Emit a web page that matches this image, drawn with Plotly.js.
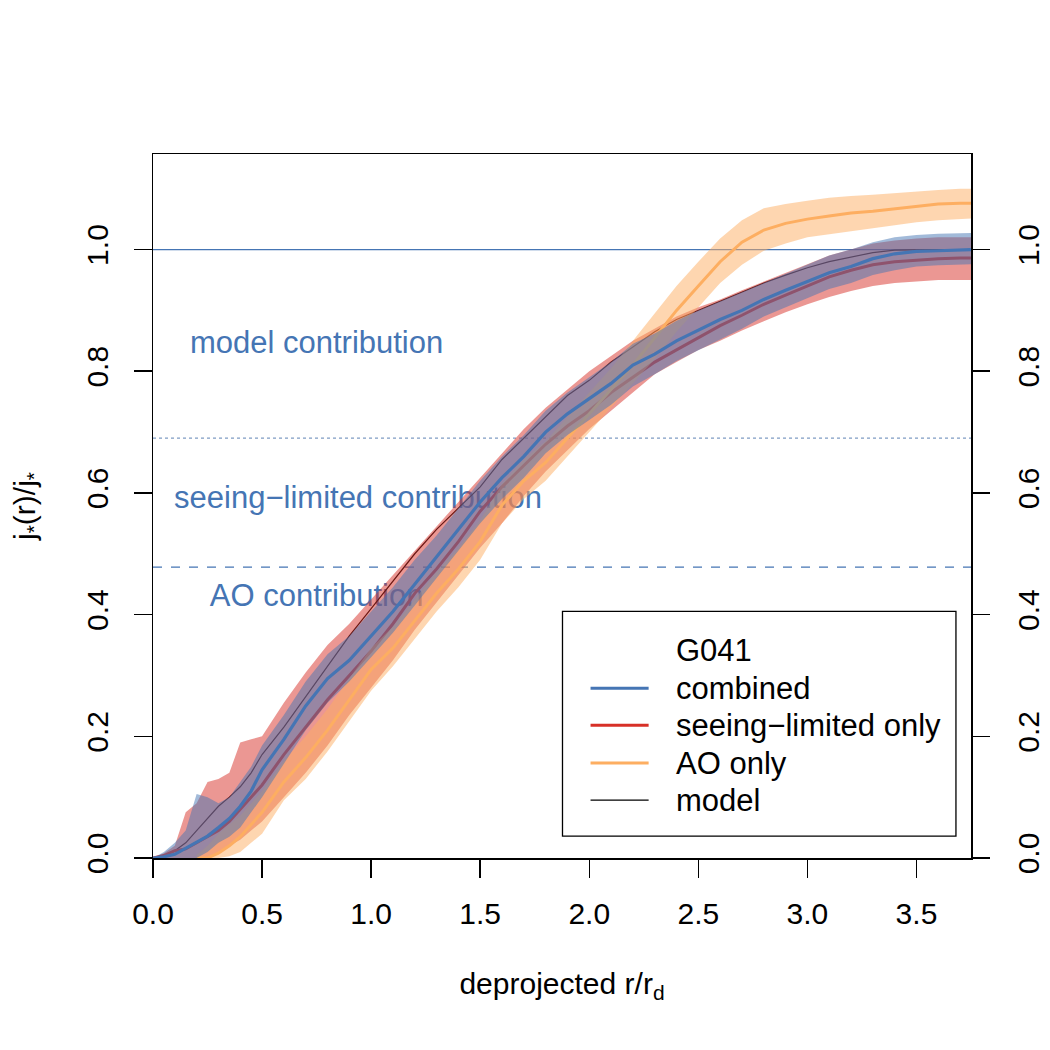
<!DOCTYPE html>
<html>
<head>
<meta charset="utf-8">
<script src="https://cdn.plot.ly/plotly-3.0.1.min.js"></script>
<style>html,body{margin:0;padding:0;background:#fff;}#chart{width:1050px;height:1050px;}</style>
</head>
<body>
<div id="chart"></div>
<script>
// ---- data ----
const rr = [0,0.05,0.1,0.15,0.2,0.25,0.3,0.35,0.4,0.45,0.5,0.6,0.7,0.8,0.9,1.0,1.1,1.2,1.3,1.4,1.5,1.6,1.7,1.8,1.9,2.0,2.1,2.2,2.3,2.4,2.5,2.6,2.7,2.8,2.9,3.0,3.1,3.2,3.3,3.4,3.5,3.6,3.7,3.75];

const modelJ = [0,0.003,0.012,0.025,0.045,0.065,0.085,0.1,0.117,0.14,0.17,
  0.215,0.265,0.315,0.365,0.41,0.455,0.5,0.54,0.575,0.61,0.655,0.69,0.725,0.76,0.785,0.815,0.84,0.865,0.885,0.9,0.915,0.93,0.945,0.958,0.97,0.98,0.988,0.995,0.999,1.0,1.0,1.0,1.0];

const combinedJ = [0,0.002,0.006,0.016,0.027,0.036,0.05,0.065,0.085,0.11,0.145,
  0.195,0.25,0.295,0.325,0.365,0.405,0.45,0.495,0.54,0.585,0.625,0.66,0.7,0.73,0.755,0.78,0.81,0.828,0.85,0.867,0.885,0.9,0.918,0.933,0.948,0.962,0.972,0.985,0.993,0.997,0.998,1.0,1.0];
const combinedLo = [0,0,0,0,0,0.01,0.025,0.035,0.05,0.075,0.1,
  0.155,0.21,0.255,0.29,0.33,0.37,0.415,0.46,0.505,0.55,0.59,0.625,0.665,0.695,0.72,0.745,0.775,0.795,0.817,0.835,0.853,0.87,0.89,0.905,0.92,0.935,0.945,0.958,0.966,0.972,0.974,0.976,0.976];
const combinedHi = [0,0.01,0.025,0.045,0.105,0.1,0.09,0.1,0.125,0.15,0.185,
  0.235,0.29,0.335,0.365,0.405,0.445,0.49,0.53,0.575,0.62,0.66,0.695,0.735,0.765,0.79,0.815,0.845,0.862,0.883,0.9,0.915,0.93,0.945,0.96,0.975,0.99,1.0,1.012,1.02,1.024,1.026,1.027,1.027];

const seeingJ = [0,0.004,0.012,0.015,0.025,0.035,0.045,0.06,0.08,0.1,0.12,
  0.17,0.215,0.26,0.3,0.34,0.385,0.435,0.475,0.52,0.57,0.61,0.645,0.68,0.71,0.735,0.765,0.79,0.815,0.835,0.855,0.875,0.892,0.91,0.925,0.94,0.955,0.966,0.975,0.98,0.983,0.985,0.986,0.986];
const seeingLo = [0,0,0,0,0,0,0.01,0.02,0.03,0.045,0.06,
  0.1,0.14,0.185,0.235,0.28,0.325,0.375,0.42,0.465,0.51,0.55,0.595,0.635,0.67,0.705,0.735,0.765,0.795,0.815,0.835,0.85,0.867,0.882,0.897,0.91,0.922,0.932,0.94,0.945,0.948,0.95,0.95,0.95];
const seeingHi = [0,0.008,0.02,0.075,0.09,0.125,0.13,0.14,0.19,0.195,0.2,
  0.255,0.305,0.35,0.385,0.425,0.465,0.505,0.545,0.585,0.625,0.665,0.705,0.74,0.77,0.8,0.825,0.85,0.87,0.89,0.905,0.918,0.933,0.948,0.962,0.976,0.99,1.0,1.01,1.015,1.018,1.02,1.02,1.02];

const aoJ = [null,null,null,null,0,0,0.008,0.02,0.035,0.055,0.075,
  0.125,0.165,0.21,0.26,0.31,0.345,0.39,0.435,0.475,0.52,0.58,0.62,0.65,0.69,0.73,0.77,0.81,0.855,0.9,0.94,0.98,1.012,1.032,1.043,1.05,1.055,1.06,1.063,1.067,1.072,1.075,1.076,1.076];
const aoLo = [null,null,null,null,0,0,0,0.003,0.01,0.025,0.04,
  0.095,0.13,0.175,0.225,0.275,0.315,0.36,0.405,0.445,0.49,0.55,0.59,0.62,0.66,0.7,0.74,0.78,0.82,0.865,0.905,0.945,0.975,0.998,1.01,1.02,1.025,1.03,1.035,1.04,1.045,1.048,1.05,1.051];
const aoHi = [null,null,null,null,0.005,0.02,0.04,0.055,0.07,0.09,0.11,
  0.16,0.2,0.245,0.295,0.345,0.38,0.425,0.47,0.51,0.555,0.615,0.655,0.685,0.725,0.765,0.805,0.85,0.895,0.94,0.98,1.018,1.048,1.068,1.075,1.08,1.085,1.088,1.09,1.092,1.095,1.098,1.1,1.1];

const refLevels = [1.0, 0.69, 0.478];
const refDash = ['solid', 'dot', 'dash'];

const regionLabels = ['model contribution', 'seeing\u2212limited contribution', 'AO contribution'];
const regionX = [0.75, 0.94, 0.75];
const regionY = [0.842, 0.588, 0.427];

const legendTitle = 'G041';
const legendNames = ['combined', 'seeing\u2212limited only', 'AO only', 'model'];

const yTicks = [0, 0.2, 0.4, 0.6, 0.8, 1.0];
const xTicks = [0, 0.5, 1.0, 1.5, 2.0, 2.5, 3.0, 3.5];

// ---- styling ----
const FONT = 'Liberation Sans, Arial, Helvetica, sans-serif';
const FS = 30;
const FS_TXT = 31;
const BLUE = '#4575b4', RED = '#d73027', ORANGE = '#fdae61', BLACK = '#000000';
const legendColors = [BLUE, RED, ORANGE, BLACK];
const legendWidths = [3, 3, 3, 1.2];

function band(lo, hi, color) {
  const xf = [], lf = [], hf = [];
  for (let i = 0; i < rr.length; i++) {
    if (lo[i] !== null && hi[i] !== null) { xf.push(rr[i]); lf.push(lo[i]); hf.push(hi[i]); }
  }
  return {
    x: xf.concat(xf.slice().reverse()),
    y: lf.concat(hf.slice().reverse()),
    type: 'scatter', mode: 'lines', fill: 'toself', fillcolor: color,
    line: {width: 0, color: 'rgba(0,0,0,0)'}, hoverinfo: 'skip', showlegend: false
  };
}
function line(y, color, w, name) {
  return {x: rr, y: y, type: 'scatter', mode: 'lines', connectgaps: false,
    line: {color: color, width: w}, name: name, showlegend: false};
}

const traces = [
  {x: regionX, y: regionY, text: regionLabels, mode: 'text', type: 'scatter',
   textposition: 'middle center', textfont: {family: FONT, size: FS_TXT, color: BLUE},
   hoverinfo: 'skip', showlegend: false},
  line(modelJ, BLACK, 1.2, 'model'),
  band(seeingLo, seeingHi, 'rgba(215,48,39,0.5)'),
  line(seeingJ, RED, 3, 'seeing-limited only'),
  band(aoLo, aoHi, 'rgba(253,174,97,0.5)'),
  line(aoJ, ORANGE, 3, 'AO only'),
  band(combinedLo, combinedHi, 'rgba(69,117,180,0.5)'),
  line(combinedJ, BLUE, 3.2, 'combined'),
  {x: [rr[0]], y: [modelJ[0]], yaxis: 'y2', type: 'scatter', mode: 'markers',
   marker: {opacity: 0}, hoverinfo: 'skip', showlegend: false}
];

const shapes = [];
refLevels.forEach((lv, i) => {
  shapes.push({type: 'line', xref: 'paper', x0: 0, x1: 1, yref: 'y', y0: lv, y1: lv,
    layer: 'below', line: {color: i === 1 ? '#7f9cc4' : BLUE, width: i === 0 ? 1.2 : 1.3, dash: refDash[i]}});
});

// manual legend (paper coords)
const L = {x0: 0.5006, x1: 0.9816, y0: 0.0312, y1: 0.3504};
shapes.push({type: 'rect', xref: 'paper', yref: 'paper', x0: L.x0, x1: L.x1, y0: L.y0, y1: L.y1,
  line: {color: '#000', width: 1.3}, fillcolor: 'rgba(255,255,255,0)'});
const rowY = [0.2950, 0.2411, 0.1887, 0.1348, 0.0823];
const annotations = [];
annotations.push({xref: 'paper', yref: 'paper', x: 0.6370, y: rowY[0], xanchor: 'left', yanchor: 'middle',
  text: legendTitle, showarrow: false, font: {family: FONT, size: FS_TXT, color: '#000'}});
legendNames.forEach((nm, i) => {
  shapes.push({type: 'line', xref: 'paper', yref: 'paper', x0: 0.5349, x1: 0.6059, y0: rowY[i+1], y1: rowY[i+1],
    line: {color: legendColors[i], width: legendWidths[i]}});
  annotations.push({xref: 'paper', yref: 'paper', x: 0.6370, y: rowY[i+1], xanchor: 'left', yanchor: 'middle',
    text: nm, showarrow: false, font: {family: FONT, size: FS_TXT, color: '#000'}});
});

const axisCommon = {
  showgrid: false, zeroline: false, showline: true, linecolor: '#000', linewidth: 1.5,
  ticks: 'outside', ticklen: 18, tickwidth: 1.5, tickcolor: '#000',
  tickfont: {family: FONT, size: FS, color: '#000'}
};

const layout = {
  width: 1050, height: 1050,
  margin: {l: 153, r: 79, t: 154, b: 192, pad: 0},
  paper_bgcolor: '#fff', plot_bgcolor: '#fff',
  showlegend: false,
  font: {family: FONT, size: FS, color: '#000'},
  xaxis: Object.assign({}, axisCommon, {
    range: [0, 3.75], tickvals: xTicks, tickformat: '.1f', mirror: true,
    ticklabelstandoff: 10,
    title: {text: 'deprojected r/r<sub>d</sub>', font: {family: FONT, size: FS, color: '#000'}, standoff: 44}
  }),
  yaxis: Object.assign({}, axisCommon, {
    range: [0, 1.157], tickvals: yTicks, tickformat: '.1f', tickangle: -90, mirror: true,
    ticklabelstandoff: 14,
    title: {text: 'j<sub>*</sub>(r)/j<sub>*</sub>', font: {family: FONT, size: FS, color: '#000'}, standoff: 36}
  }),
  yaxis2: Object.assign({}, axisCommon, {
    range: [0, 1.157], tickvals: yTicks, tickformat: '.1f', tickangle: -90,
    overlaying: 'y', side: 'right', ticklabelstandoff: 13, showline: false
  }),
  shapes: shapes,
  annotations: annotations
};

Plotly.newPlot('chart', traces, layout, {staticPlot: true, displayModeBar: false});
</script>
</body>
</html>
